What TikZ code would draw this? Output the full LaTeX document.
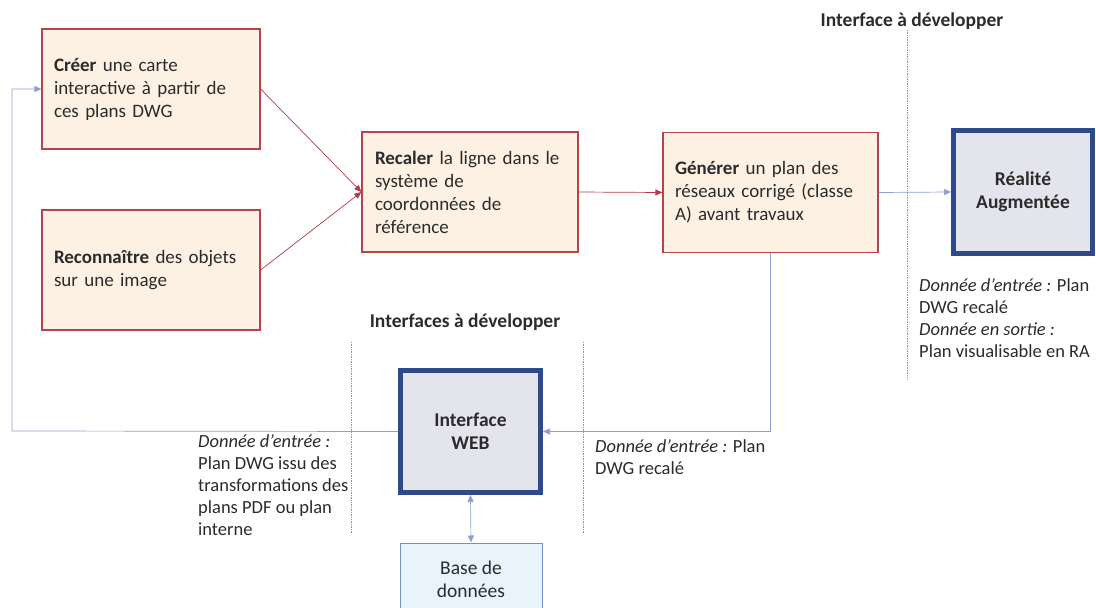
\documentclass[tikz,border=0pt]{standalone}
\usepackage{fontspec}
\setmainfont{Carlito}
\usetikzlibrary{arrows.meta}
\definecolor{taskfill}{HTML}{FDF1E3}
\definecolor{taskline}{HTML}{B5444F}
\definecolor{flowred}{HTML}{B33A47}
\definecolor{flowblue}{HTML}{8E9CD2}
\definecolor{ifaceline}{HTML}{2F4A8A}
\definecolor{ifacefill}{HTML}{E4E4EC}
\definecolor{dbfill}{HTML}{E8F3FC}
\definecolor{dbline}{HTML}{6F95BE}
\definecolor{sepline}{HTML}{D07A8C}
\definecolor{txt}{HTML}{2B2B2B}
\begin{document}
\begin{tikzpicture}[x=1pt,y=-1pt,font=\fontsize{19}{23}\selectfont,text=txt,
  task/.style={draw=taskline,line width=1.2pt,fill=taskfill,minimum height=120pt,align=left,inner xsep=12pt},
  iface/.style={draw=ifaceline,line width=5pt,fill=ifacefill,align=center,font=\fontsize{19.5}{23}\selectfont\bfseries},
  note/.style={anchor=north west,align=left,inner sep=0pt,font=\fontsize{18.5}{22}\selectfont},
  sep/.style={draw=sepline,densely dotted,line width=0.7pt},
  redflow/.style={draw=flowred,line width=0.7pt,-{Triangle[length=7pt,width=6pt]}},
  blueflow/.style={draw=flowblue,line width=0.7pt,-{Triangle[length=7pt,width=6pt]}}]
\useasboundingbox (0,0) rectangle (1096,608);
\node[task,minimum width=218pt,text width=194pt] (creer) at (151,89) {\textbf{Créer} une carte\\interactive à partir de\\ces plans DWG};
\node[task,minimum width=218pt,text width=194pt] (reco) at (151,270) {\textbf{Reconnaître} des objets\\sur une image};
\node[task,minimum width=216pt,text width=190pt,inner xsep=13pt] (recal) at (470,192) {\textbf{Recaler} la ligne dans le\\système de\\coordonnées de\\référence};
\node[task,minimum width=215pt,text width=191pt] (gen) at (770.5,192.5) {\textbf{Générer} un plan des\\réseaux corrigé (classe\\A) avant travaux};
\node[iface,minimum width=139pt,minimum height=123pt] (ra) at (1023,192) {Réalité\\Augmentée};
\node[iface,minimum width=140pt,minimum height=122pt] (web) at (470.5,431.5) {Interface\\WEB};
\node[draw=dbline,line width=1pt,fill=dbfill,minimum width=142pt,minimum height=72pt,align=center,font=\fontsize{19.5}{23}\selectfont] (bdd) at (471,579) {Base de\\données};
\node[font=\fontsize{19.5}{23}\selectfont\bfseries] (titre1) at (912,21) {Interface à développer};
\node[font=\fontsize{19.5}{23}\selectfont\bfseries] (titre2) at (465,322) {Interfaces à développer};
\node[note] (notera) at (919,278) {\textit{Donnée d’entrée :} Plan\\DWG recalé\\\textit{Donnée en sortie :}\\Plan visualisable en RA};
\node[note] (noteweb) at (198,434) {\textit{Donnée d’entrée :}\\Plan DWG issu des\\transformations des\\plans PDF ou plan\\interne};
\node[note] (notegen) at (595,439) {\textit{Donnée d’entrée :} Plan\\DWG recalé};
\draw[sep] (907,30) -- (907,380);
\draw[sep] (351,342) -- (351,533);
\draw[sep] (583,342) -- (583,533);
\draw[redflow] (creer.east) -- (recal.west);
\draw[redflow] (reco.east) -- (recal.west);
\draw[redflow] (recal.east) -- (gen.west);
\draw[blueflow] (gen.east) -- (ra.west);
\coordinate (retour) at (12,431);
\draw[blueflow] (web.west) -- (retour) |- (creer.west);
\draw[blueflow] (gen.south) |- (web.east);
\draw[blueflow,{Triangle[length=7pt,width=6pt]}-{Triangle[length=7pt,width=6pt]}] (web.south) -- (bdd.north);
\end{tikzpicture}
\end{document}
